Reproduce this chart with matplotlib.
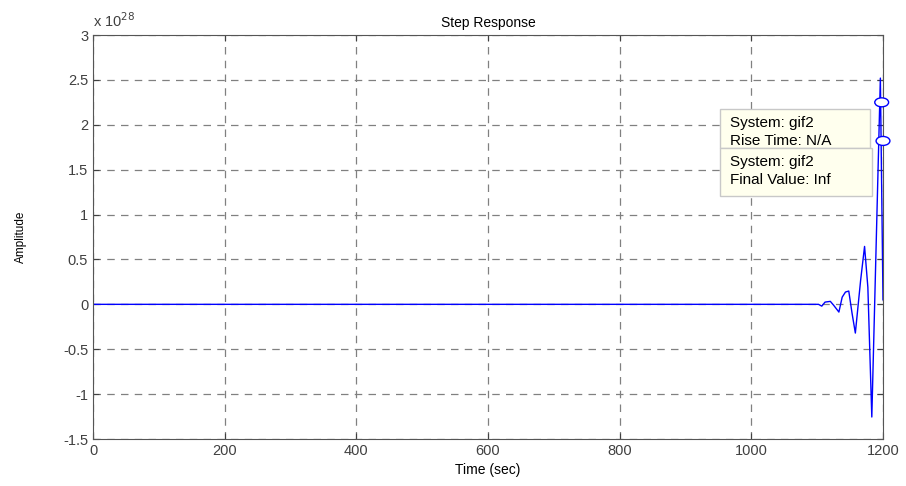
import matplotlib.pyplot as plt
from matplotlib.patches import Ellipse, Rectangle

plt.rcParams['font.family'] = ['Liberation Sans', 'DejaVu Sans']

# step response (amplitude in units of 1e28)
t = [0, 1102, 1107, 1112, 1120, 1125, 1133, 1138, 1143, 1148, 1153, 1158,
     1166, 1172, 1177, 1183, 1196, 1200]
amp = [0, 0, -0.02, 0.025, 0.033, -0.01, -0.086, 0.08, 0.137, 0.148, -0.1, -0.32,
       0.267, 0.645, 0.19, -1.255, 2.52, 0.05]

x_ticks = [0, 200, 400, 600, 800, 1000, 1200]
y_ticks = [-1.5, -1, -0.5, 0, 0.5, 1, 1.5, 2, 2.5, 3]
y_labels = ['-1.5', '-1', '-0.5', '0', '0.5', '1', '1.5', '2', '2.5', '3']

# datatip markers
tip_t = [1198, 1200]
tip_amp = [2.25, 1.82]
tip_text = ['System: gif2\nRise Time: N/A', 'System: gif2\nFinal Value: Inf']

W, H = 906, 486
fig = plt.figure(figsize=(W / 100, H / 100), dpi=100)
ax = fig.add_axes([93 / W, 1 - 439 / H, 790 / W, 404 / H])
ax.plot(t, amp, color='#0000ff', lw=1.0)
ax.set_xlim(0, 1200)
ax.set_ylim(-1.5, 3)
ax.set_xticks(x_ticks)
ax.set_yticks(y_ticks)
ax.set_yticklabels(y_labels)
ax.grid(True, linestyle=(0, (6, 5)), color='#808080', lw=0.9)
ax.tick_params(direction='in', colors='#404040', labelsize=10.5, length=4,
               top=True, right=True)
for s in ax.spines.values():
    s.set_color('#555555')

ax.set_title('Step Response', fontsize=10, pad=6)
ax.set_xlabel('Time (sec)', fontsize=10)
ax.set_ylabel('Amplitude', fontsize=8.5, labelpad=26)
ax.text(0, 1.012, r'x 10$^{28}$', transform=ax.transAxes, fontsize=10.5,
        color='#404040', va='bottom', ha='left')

# datatip boxes (pixel layout from the top-left corner)
boxes = [(720, 109, 150, 39), (720, 148, 152, 48)]
for (bx, by, bw, bh), txt in zip(boxes, tip_text):
    fig.patches.append(Rectangle((bx / W, 1 - (by + bh) / H), bw / W, bh / H,
                                 transform=fig.transFigure, fc='#ffffee',
                                 ec='#c8c8c8', lw=1, zorder=6))
    fig.text(730 / W, 1 - (by + 7) / H, txt, fontsize=11, va='top', ha='left',
             linespacing=1.38, zorder=7)

for tt, aa in zip(tip_t, tip_amp):
    e = Ellipse((tt, aa), width=21, height=0.1, fc='white', ec='#0000ff',
                lw=1.0, clip_on=False, zorder=5)
    ax.add_patch(e)

fig.savefig('out.png', dpi=100)
